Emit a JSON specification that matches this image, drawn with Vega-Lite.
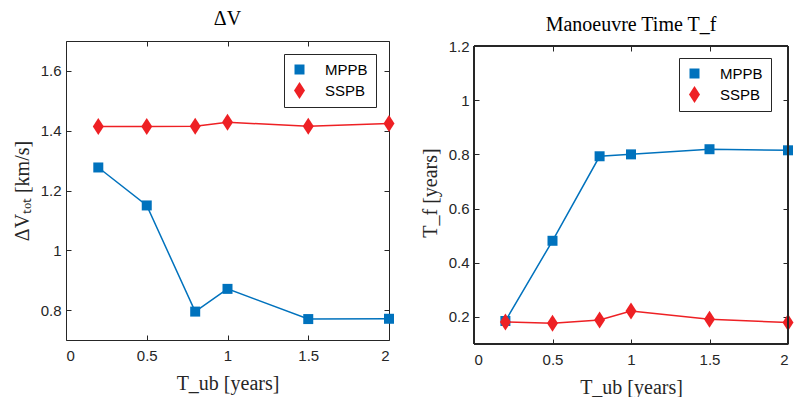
{
  "$schema": "https://vega.github.io/schema/vega-lite/v6.json",
  "padding": {"left": 11, "top": 8, "right": 0, "bottom": 0},
  "background": "white",
  "datasets": {
    "dv": [
      {"T": 0.2, "method": "MPPB", "v": 1.277},
      {"T": 0.5, "method": "MPPB", "v": 1.150},
      {"T": 0.8, "method": "MPPB", "v": 0.795},
      {"T": 1.0, "method": "MPPB", "v": 0.871},
      {"T": 1.5, "method": "MPPB", "v": 0.770},
      {"T": 2.0, "method": "MPPB", "v": 0.771},
      {"T": 0.2, "method": "SSPB", "v": 1.414},
      {"T": 0.5, "method": "SSPB", "v": 1.414},
      {"T": 0.8, "method": "SSPB", "v": 1.415},
      {"T": 1.0, "method": "SSPB", "v": 1.428},
      {"T": 1.5, "method": "SSPB", "v": 1.415},
      {"T": 2.0, "method": "SSPB", "v": 1.424}
    ],
    "tf": [
      {"T": 0.2, "method": "MPPB", "v": 0.185},
      {"T": 0.5, "method": "MPPB", "v": 0.481},
      {"T": 0.8, "method": "MPPB", "v": 0.793},
      {"T": 1.0, "method": "MPPB", "v": 0.800},
      {"T": 1.5, "method": "MPPB", "v": 0.819},
      {"T": 2.0, "method": "MPPB", "v": 0.815},
      {"T": 0.2, "method": "SSPB", "v": 0.181},
      {"T": 0.5, "method": "SSPB", "v": 0.177},
      {"T": 0.8, "method": "SSPB", "v": 0.189},
      {"T": 1.0, "method": "SSPB", "v": 0.222},
      {"T": 1.5, "method": "SSPB", "v": 0.191},
      {"T": 2.0, "method": "SSPB", "v": 0.179}
    ]
  },
  "config": {
    "view": {"stroke": "#262626", "strokeWidth": 1},
    "scale": {"continuousPadding": 0},
    "axis": {
      "grid": false,
      "domain": false,
      "tickColor": "#262626",
      "tickSize": -5,
      "labelFont": "Liberation Sans",
      "labelFontSize": 15,
      "labelColor": "#262626",
      "titleFont": "Liberation Serif",
      "titleFontSize": 20,
      "titleFontWeight": "normal",
      "titleColor": "#262626",
      "format": "~g"
    },
    "legend": {
      "orient": "top-right",
      "offset": 13,
      "strokeColor": "#262626",
      "fillColor": "white",
      "padding": 8,
      "labelFont": "Liberation Sans",
      "labelFontSize": 15,
      "labelColor": "#000000",
      "labelOffset": 18,
      "symbolSize": 100,
      "symbolStrokeWidth": 0,
      "rowPadding": 4
    },
    "title": {"font": "Liberation Serif", "fontSize": 20, "fontWeight": "normal", "color": "#000000"}
  },
  "hconcat": [
    {
      "width": 323,
      "height": 299,
      "title": {"text": "ΔV", "offset": 12},
      "data": {"name": "dv"},
      "layer": [
        {
          "layer": [
            {
              "mark": {"type": "line", "strokeWidth": 1.5},
              "encoding": {
                "x": {"field": "T", "type": "quantitative", "scale": {"domain": [0, 2], "nice": false, "padding": 0}, "axis": {"values": [0, 0.5, 1, 1.5, 2], "title": "T_ub [years]", "labelPadding": 13, "titlePadding": 10}},
                "y": {"field": "v", "type": "quantitative", "scale": {"domain": [0.7, 1.7], "nice": false, "padding": 0}, "axis": {"values": [0.8, 1, 1.2, 1.4, 1.6], "title": "ΔVₜₒₜ [km/s]", "labelPadding": 10, "titlePadding": 8}},
                "color": {"field": "method", "type": "nominal", "scale": {"domain": ["MPPB", "SSPB"], "range": ["#0072BD", "#EE2024"]}, "legend": {"title": null}}
              }
            },
            {
              "mark": {"type": "point", "filled": true, "opacity": 1, "size": 100},
              "encoding": {
                "x": {"field": "T", "type": "quantitative"},
                "y": {"field": "v", "type": "quantitative"},
                "color": {"field": "method", "type": "nominal"},
                "shape": {"field": "method", "type": "nominal", "scale": {"domain": ["MPPB", "SSPB"], "range": ["square", "M0,-1.7L1.1,0L0,1.7L-1.1,0Z"]}, "legend": {"title": null}}
              }
            }
          ]
        },
        {
          "mark": {"type": "point", "opacity": 0},
          "encoding": {
            "x": {"field": "T", "type": "quantitative", "scale": {"domain": [0, 2], "nice": false, "padding": 0}, "axis": {"orient": "top", "values": [0, 0.5, 1, 1.5, 2], "labels": false, "title": null}},
            "y": {"field": "v", "type": "quantitative", "scale": {"domain": [0.7, 1.7], "nice": false, "padding": 0}, "axis": {"orient": "right", "values": [0.8, 1, 1.2, 1.4, 1.6], "labels": false, "title": null}}
          }
        }
      ],
      "resolve": {"scale": {"x": "independent", "y": "independent"}}
    },
    {
      "width": 314,
      "height": 303,
      "view": {"stroke": null},
      "title": {"text": "Manoeuvre Time T_f", "offset": 4},
      "data": {"name": "tf"},
      "layer": [
        {
          "layer": [
            {
              "mark": {"type": "line", "strokeWidth": 1.5},
              "encoding": {
                "x": {"field": "T", "type": "quantitative", "scale": {"domain": [0, 2], "nice": false, "padding": 0}, "axis": {"values": [0, 0.5, 1, 1.5, 2], "title": "T_ub [years]", "labelPadding": 13, "titlePadding": 10}},
                "y": {"field": "v", "type": "quantitative", "scale": {"domain": [0.1, 1.2185], "nice": false, "padding": 0}, "axis": {"values": [0.2, 0.4, 0.6, 0.8, 1, 1.2], "title": "T_f [years]", "labelPadding": 10, "titlePadding": 8}},
                "color": {"field": "method", "type": "nominal", "scale": {"domain": ["MPPB", "SSPB"], "range": ["#0072BD", "#EE2024"]}, "legend": {"title": null, "offset": 17}}
              }
            },
            {
              "mark": {"type": "point", "filled": true, "opacity": 1, "size": 100},
              "encoding": {
                "x": {"field": "T", "type": "quantitative"},
                "y": {"field": "v", "type": "quantitative"},
                "color": {"field": "method", "type": "nominal"},
                "shape": {"field": "method", "type": "nominal", "scale": {"domain": ["MPPB", "SSPB"], "range": ["square", "M0,-1.7L1.1,0L0,1.7L-1.1,0Z"]}, "legend": {"title": null, "offset": 17}}
              }
            },
            {"mark": {"type": "rule", "color": "#262626", "strokeWidth": 1}, "encoding": {"y": {"datum": 1.2}}},
            {"mark": {"type": "rule", "color": "#262626", "strokeWidth": 1}, "encoding": {"y": {"datum": 0.1}}},
            {"mark": {"type": "rule", "color": "#262626", "strokeWidth": 1}, "encoding": {"x": {"datum": 0}, "y": {"datum": 0.1}, "y2": {"datum": 1.2}}},
            {"mark": {"type": "rule", "color": "#262626", "strokeWidth": 1}, "encoding": {"x": {"datum": 2}, "y": {"datum": 0.1}, "y2": {"datum": 1.2}}}
          ]
        },
        {
          "mark": {"type": "point", "opacity": 0},
          "encoding": {
            "x": {"field": "T", "type": "quantitative", "scale": {"domain": [0, 2], "nice": false, "padding": 0}, "axis": {"orient": "top", "offset": -5, "values": [0, 0.5, 1, 1.5, 2], "labels": false, "title": null}},
            "y": {"field": "v", "type": "quantitative", "scale": {"domain": [0.1, 1.2185], "nice": false, "padding": 0}, "axis": {"orient": "right", "values": [0.2, 0.4, 0.6, 0.8, 1, 1.2], "labels": false, "title": null}}
          }
        }
      ],
      "resolve": {"scale": {"x": "independent", "y": "independent"}}
    }
  ],
  "spacing": 25,
  "align": "none",
  "resolve": {"scale": {"color": "independent", "shape": "independent"}}
}
